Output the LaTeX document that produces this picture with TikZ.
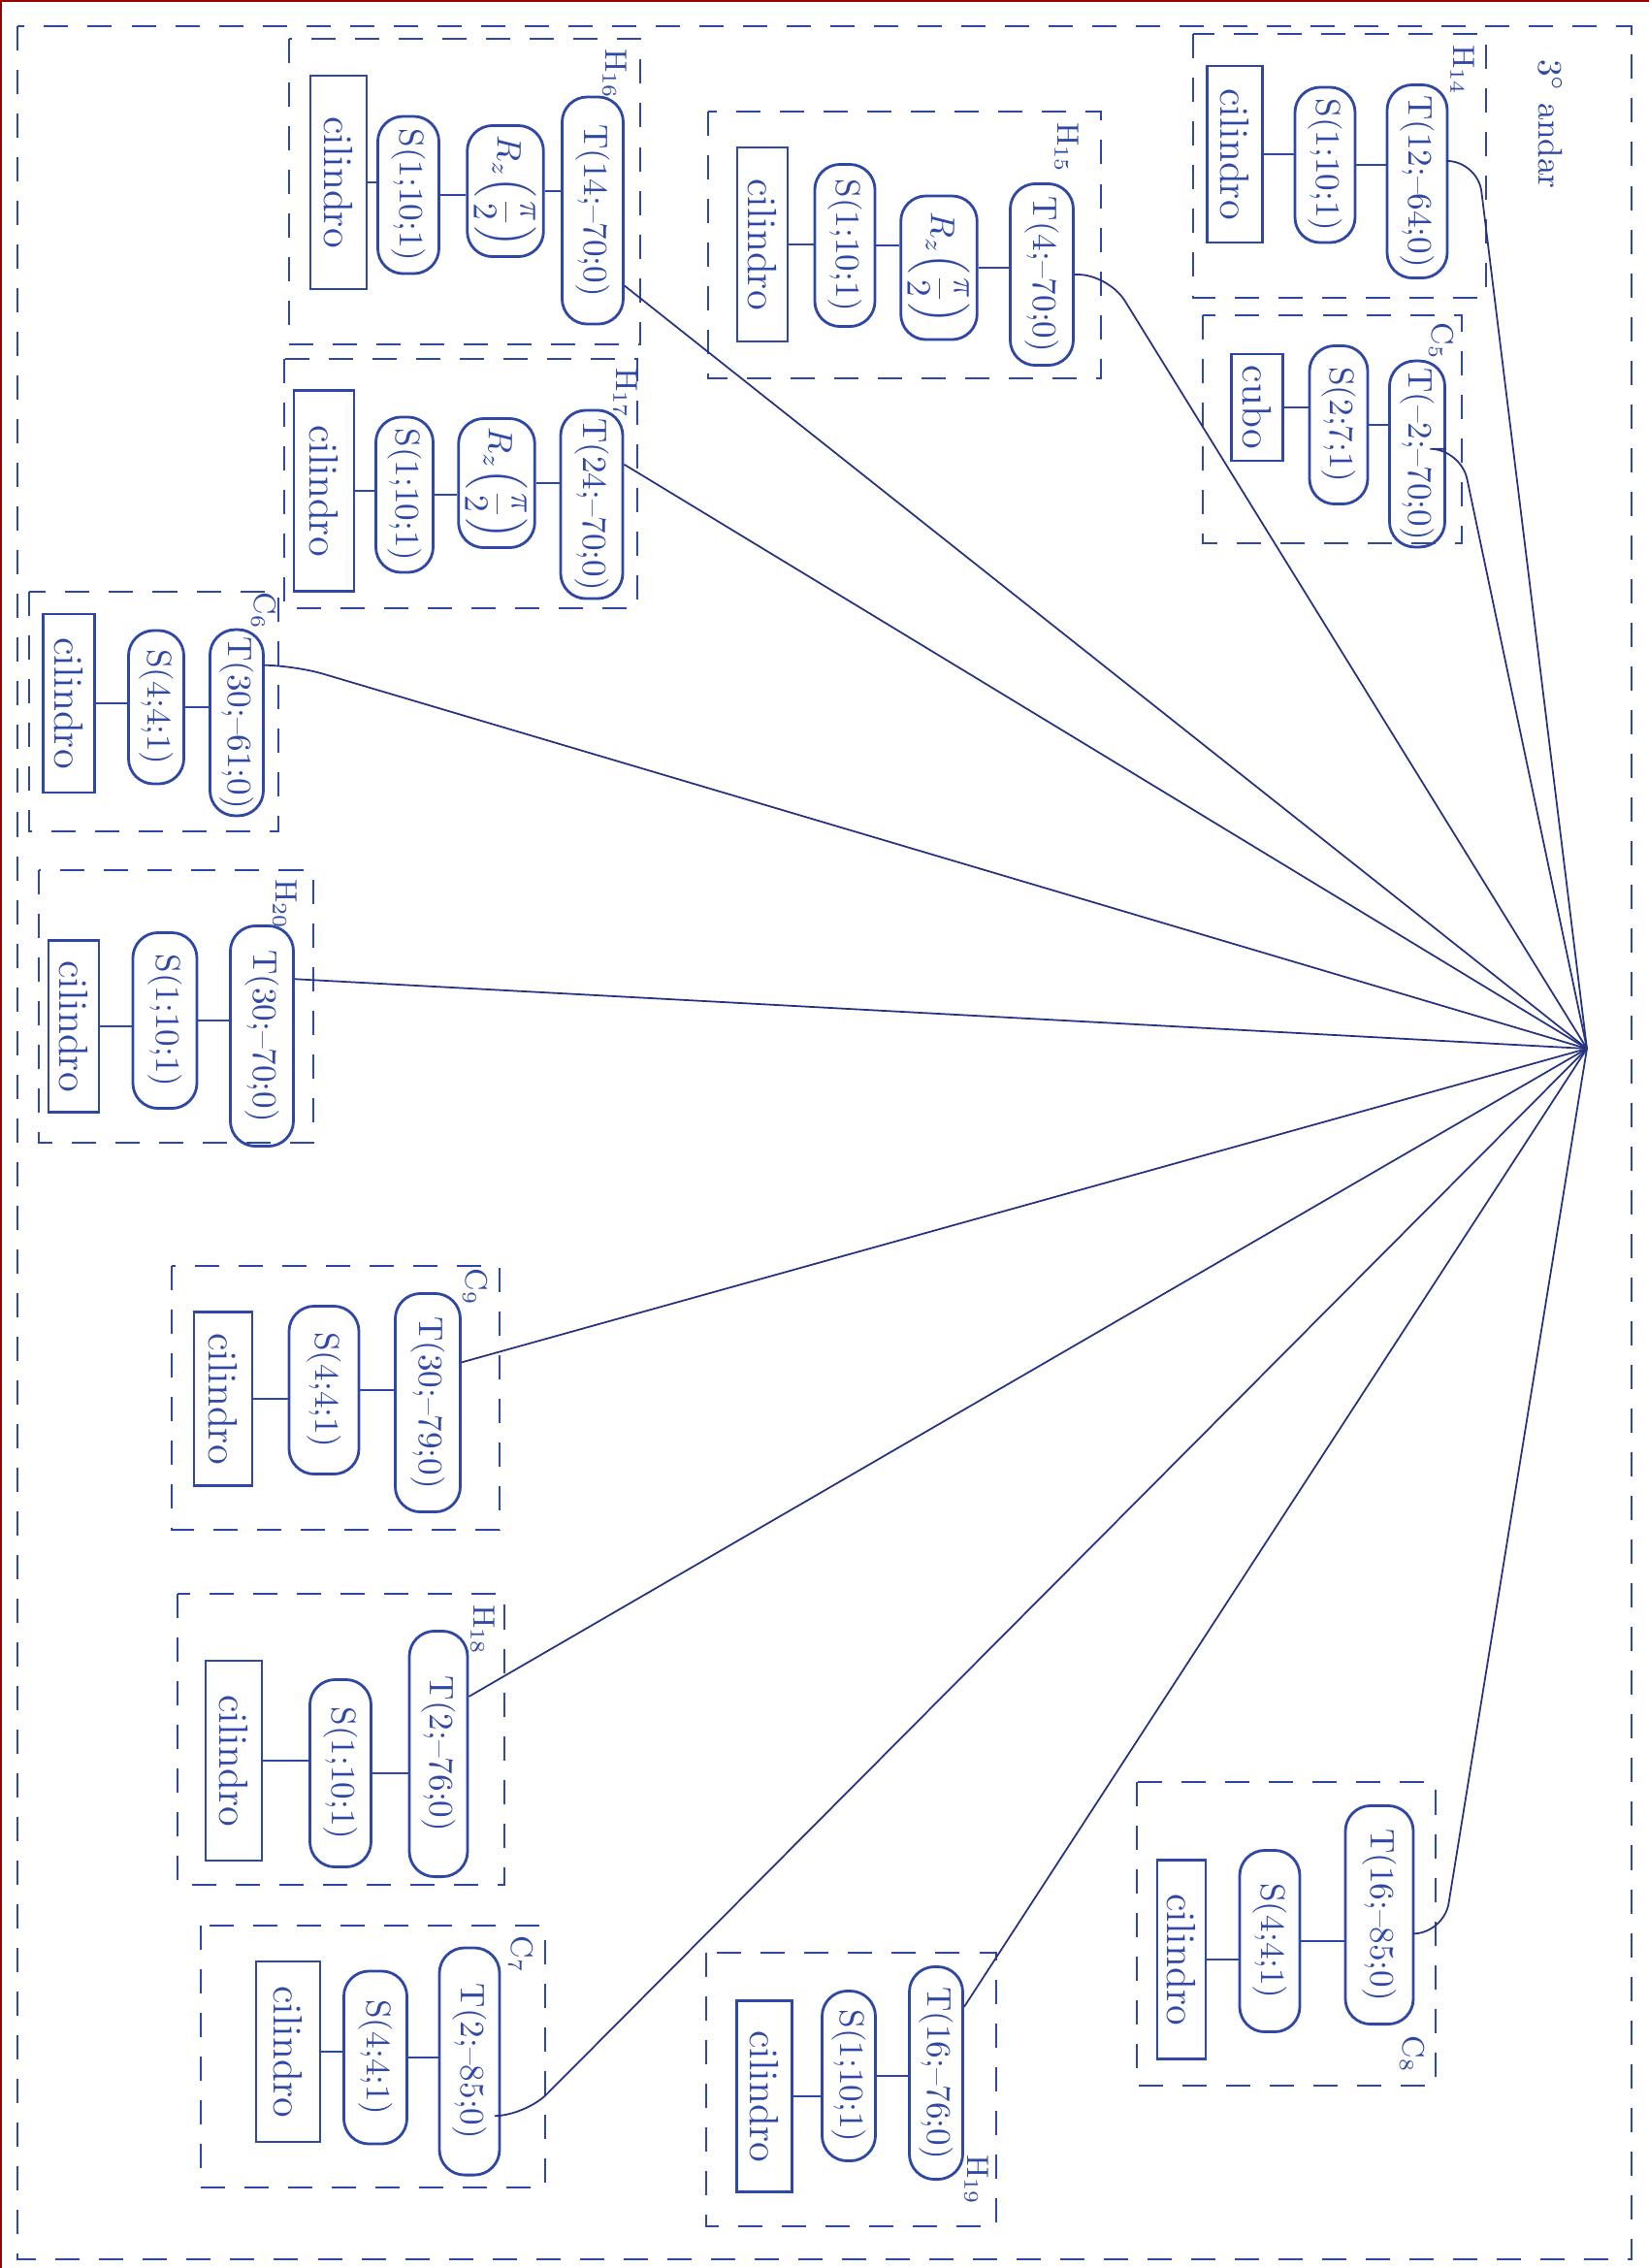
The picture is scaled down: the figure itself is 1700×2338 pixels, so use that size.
\documentclass[tikz,border=0pt]{standalone}
\usepackage{tikz}
\usetikzlibrary{calc}
\definecolor{ink}{RGB}{48,72,165}
\definecolor{pen}{RGB}{38,50,130}
\tikzset{
  op/.style 2 args={draw=ink, text=ink, thick, rectangle, rounded corners=2.6mm,
    rotate=-90, inner sep=2pt, minimum height=#1cm, minimum width=#2cm},
  solid3d/.style 2 args={draw=ink, text=ink, thick, rectangle, rotate=-90,
    inner sep=2pt, font=\large, minimum height=#1cm, minimum width=#2cm},
  tag/.style={text=ink, rotate=-90, font=\small, inner sep=1pt},
  link/.style={draw=ink, thick},
  spoke/.style={draw=pen, line width=0.5pt, rounded corners=9pt},
  grp/.style={draw=ink, line width=0.6pt, dash pattern=on 2.5mm off 2mm}
}
\newcommand*{\rzhalf}{$\displaystyle R_z\!\left(\frac{\pi}{2}\right)$}

\begin{document}
\begin{tikzpicture}[x=0.01cm,y=-0.01cm]
\fill[white] (0,0) rectangle (1700,2338);
\useasboundingbox (0,0) rectangle (1700,2338);
% edge of the sheet
\draw[red!60!black, line width=1pt] (0,2338) -- (0,0) -- (1700,0);
% 3rd floor frame
\draw[grp] (18,27) rectangle (1682,2329);
\node[tag, font=\normalsize] (andar) at (1598,128) {$3^{\circ}$ andar};
\coordinate (hub) at (1636,1081);

% H14
\draw[grp] (1230,35) rectangle (1532,307);
\node[tag] (h14) at (1508,72) {H$_{14}$};
\node[solid3d={0.57}{1.82}] (h14cil) at (1273,159) {cilindro};
\node[op={0.62}{1.60}] (h14s) at (1366,170) {S(1;10;1)};
\node[op={0.62}{1.99}] (h14t) at (1461,187) {T(12;--64;0)};
\draw[link] (h14cil.north) -- (h14cil.north -| h14s.south);
\draw[link] (h14s.north) -- (h14s.north -| h14t.south);

% C5
\draw[grp] (1240,325) rectangle (1507,560);
\node[tag] (c5) at (1486,352) {C$_{5}$};
\node[solid3d={0.53}{1.10}] (c5cubo) at (1296,420) {cubo};
\node[op={0.60}{1.63}] (c5s) at (1380,438) {S(2;7;1)};
\node[op={0.57}{1.90}] (c5t) at (1461,468) {T(--2;--70;0)};
\draw[link] (c5cubo.north) -- (c5cubo.north -| c5s.south);
\draw[link] (c5s.north) -- (c5s.north -| c5t.south);

% H15
\draw[grp] (730,115) rectangle (1135,390);
\node[tag] (h15) at (1100,152) {H$_{15}$};
\node[solid3d={0.52}{2.00}] (h15cil) at (786,252) {cilindro};
\node[op={0.62}{1.67}] (h15s) at (871,253) {S(1;10;1)};
\node[op={0.70}{1.48}] (h15rz) at (968,276) {\rzhalf};
\node[op={0.65}{1.87}] (h15t) at (1074,283) {T(4;--70;0)};
\draw[link] (h15cil.north) -- (h15cil.north -| h15s.south);
\draw[link] (h15s.north) -- (h15s.north -| h15rz.south);
\draw[link] (h15rz.north) -- (h15rz.north -| h15t.south);

% H16
\draw[grp] (298,40) rectangle (660,355);
\node[tag] (h16) at (634,76) {H$_{16}$};
\node[solid3d={0.58}{2.20}] (h16cil) at (349,188) {cilindro};
\node[op={0.63}{1.62}] (h16s) at (421,201) {S(1;10;1)};
\node[op={0.72}{1.35}] (h16rz) at (521,197) {\rzhalf};
\node[op={0.63}{2.34}] (h16t) at (611,217) {T(14;--70;0)};
\draw[link] (h16cil.north) -- (h16cil.north -| h16s.south);
\draw[link] (h16s.north) -- (h16s.north -| h16rz.south);
\draw[link] (h16rz.north) -- (h16rz.north -| h16t.south);

% H17
\draw[grp] (293,370) rectangle (657,627);
\node[tag] (h17) at (645,405) {H$_{17}$};
\node[solid3d={0.62}{2.07}] (h17cil) at (334,506) {cilindro};
\node[op={0.59}{1.60}] (h17s) at (417,510) {S(1;10;1)};
\node[op={0.71}{1.33}] (h17rz) at (512,498) {\rzhalf};
\node[op={0.64}{1.94}] (h17t) at (610,520) {T(24;--70;0)};
\draw[link] (h17cil.north) -- (h17cil.north -| h17s.south);
\draw[link] (h17s.north) -- (h17s.north -| h17rz.south);
\draw[link] (h17rz.north) -- (h17rz.north -| h17t.south);

% C6
\draw[grp] (30,610) rectangle (287,857);
\node[tag] (c6) at (272,630) {C$_{6}$};
\node[solid3d={0.53}{1.84}] (c6cil) at (71,725) {cilindro};
\node[op={0.57}{1.58}] (c6s) at (161,729) {S(4;4;1)};
\node[op={0.55}{1.87}] (c6t) at (244,745) {T(30;--61;0)};
\draw[link] (c6cil.north) -- (c6cil.north -| c6s.south);
\draw[link] (c6s.north) -- (c6s.north -| c6t.south);

% H20
\draw[grp] (40,897) rectangle (323,1178);
\node[tag] (h20) at (294,932) {H$_{20}$};
\node[solid3d={0.52}{1.77}] (h20cil) at (76,1058) {cilindro};
\node[op={0.66}{1.81}] (h20s) at (170,1052) {S(1;10;1)};
\node[op={0.65}{2.27}] (h20t) at (270,1068) {T(30;--70;0)};
\draw[link] (h20cil.north) -- (h20cil.north -| h20s.south);
\draw[link] (h20s.north) -- (h20s.north -| h20t.south);

% C9
\draw[grp] (177,1305) rectangle (515,1577);
\node[tag] (c9) at (490,1327) {C$_{9}$};
\node[solid3d={0.60}{1.79}] (c9cil) at (230,1442) {cilindro};
\node[op={0.72}{1.73}] (c9s) at (334,1433) {S(4;4;1)};
\node[op={0.67}{2.25}] (c9t) at (441,1446) {T(30;--79;0)};
\draw[link] (c9cil.north) -- (c9cil.north -| c9s.south);
\draw[link] (c9s.north) -- (c9s.north -| c9t.south);

% H18
\draw[grp] (183,1643) rectangle (520,1943);
\node[tag] (h18) at (498,1680) {H$_{18}$};
\node[solid3d={0.58}{2.06}] (h18cil) at (241,1815) {cilindro};
\node[op={0.63}{1.93}] (h18s) at (351,1828) {S(1;10;1)};
\node[op={0.60}{2.53}] (h18t) at (452,1808) {T(2;--76;0)};
\draw[link] (h18cil.north) -- (h18cil.north -| h18s.south);
\draw[link] (h18s.north) -- (h18s.north -| h18t.south);

% C7
\draw[grp] (207,1985) rectangle (562,2255);
\node[tag] (c7) at (537,2015) {C$_{7}$};
\node[solid3d={0.66}{1.86}] (c7cil) at (297,2115) {cilindro};
\node[op={0.65}{1.78}] (c7s) at (387,2121) {S(4;4;1)};
\node[op={0.62}{2.34}] (c7t) at (484,2125) {T(2;--85;0)};
\draw[link] (c7cil.north) -- (c7cil.north -| c7s.south);
\draw[link] (c7s.north) -- (c7s.north -| c7t.south);

% H19
\draw[grp] (728,2013) rectangle (1027,2295);
\node[tag] (h19) at (1007,2247) {H$_{19}$};
\node[solid3d={0.57}{1.97}] (h19cil) at (788,2161) {cilindro};
\node[op={0.55}{1.75}] (h19s) at (875,2140) {S(1;10;1)};
\node[op={0.55}{2.19}] (h19t) at (965,2137) {T(16;--76;0)};
\draw[link] (h19cil.north) -- (h19cil.north -| h19s.south);
\draw[link] (h19s.north) -- (h19s.north -| h19t.south);

% C8
\draw[grp] (1172,1837) rectangle (1480,2150);
\node[tag] (c8) at (1456,2118) {C$_{8}$};
\node[solid3d={0.50}{2.05}] (c8cil) at (1218,2020) {cilindro};
\node[op={0.62}{1.87}] (c8s) at (1309,2001) {S(4;4;1)};
\node[op={0.70}{2.25}] (c8t) at (1422,1974) {T(16;--85;0)};
\draw[link] (c8cil.north) -- (c8cil.north -| c8s.south);
\draw[link] (c8s.north) -- (c8s.north -| c8t.south);

% spokes to the floor
\draw[spoke] (h14t.123) -- ++(30,0) -- (hub);
\draw[spoke] (c5t.100) -- ++(15,0) -- (hub);
\draw[spoke] (h15t.90) -- ++(35,0) -- (hub);
\draw[spoke] (h16t.23) -- (hub);
\draw[spoke] (h17t.141) -- (hub);
\draw[spoke] (c6t.154) -- ++(30,0) -- (hub);
\draw[spoke] (h20t.150) -- (hub);
\draw[spoke] (c9t.140) -- (hub);
\draw[spoke] (h18t.152) -- (hub);
\draw[spoke] (c7t.30) -- ++(25,0) -- (hub);
\draw[spoke] (h19t.157) -- (hub);
\draw[spoke] (c8t.62) -- ++(30,0) -- (hub);
\end{tikzpicture}
\end{document}
